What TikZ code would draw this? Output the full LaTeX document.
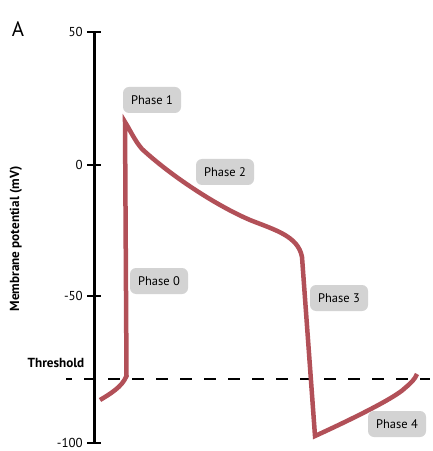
\documentclass[tikz,border=0pt]{standalone}
\usepackage{fontspec}
\setmainfont{PT Sans}
\usepackage{tikz}
\usetikzlibrary{shapes}
\definecolor{apred}{RGB}{178,80,88}
\definecolor{phasegray}{RGB}{211,211,211}

\begin{document}
\begin{tikzpicture}[x=1bp,y=-1bp,line join=miter,
  phase/.style={fill=phasegray,rounded corners=6bp,minimum width=58bp,
    minimum height=26bp,inner sep=0pt,font=\fontsize{12.5}{14}\selectfont},
  axtick/.style={line width=2.5bp},
  axnum/.style={anchor=east,inner sep=0pt,font=\fontsize{13}{15}\selectfont}]
\useasboundingbox (0,0) rectangle (432,451);
%%
\node (A) at (18,29) [font=\fontsize{21}{25}\selectfont] {A};
  \node (ylab) at (16,239) [rotate=90,font=\fontsize{13.2}{15}\selectfont\bfseries] {Membrane potential (mV)};
  \draw [line width=2.5bp] (94.5,32) -- (94.5,443);
  \foreach \y/\v in {32/50,165/0,296/-50,443/-100} {
    \draw [axtick] (87,\y) -- (101,\y);
    \node [axnum] at (83,\y) {\v};
  }
  \node (thr) at (56,363) [font=\fontsize{13.2}{15}\selectfont\bfseries] {Threshold};
  \draw [line width=2.5bp,dash pattern=on 12bp off 12bp,dash phase=6bp] (66,379) -- (430,379);
  \draw [apred,line width=4.5bp] (100,400) .. controls (110,394) and (122,387) .. (126.5,376)
    -- (125,122) .. controls (130,130) and (135,141) .. (142,149)
    .. controls (170,175) and (215,205) .. (250,220)
    .. controls (275,230) and (298,236) .. (302,257)
    -- (315,436) .. controls (350,420) and (395,398) .. (405,388)
    .. controls (411,383) and (415,379) .. (417,374);
  \node (P1) at (152,100) [phase] {Phase 1};
  \node (P2) at (225,172) [phase] {Phase 2};
  \node (P0) at (159,281) [phase] {Phase 0};
  \node (P3) at (339,298) [phase] {Phase 3};
  \node (P4) at (397,424) [phase] {Phase 4};
%
\end{tikzpicture}
\end{document}
